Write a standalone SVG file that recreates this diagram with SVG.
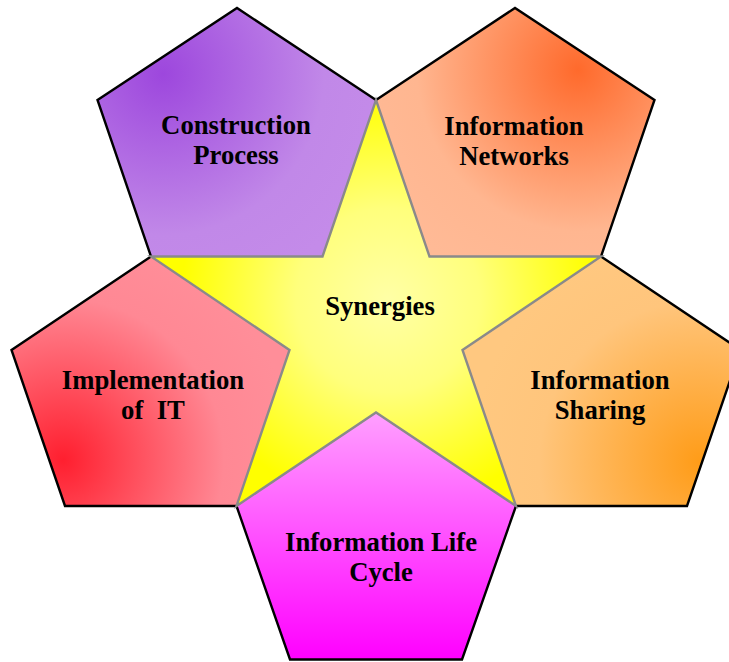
<svg xmlns="http://www.w3.org/2000/svg" width="729" height="662" viewBox="0 0 729 662">
  <defs>
    <radialGradient id="gPurple" gradientUnits="userSpaceOnUse" cx="163" cy="74" r="230">
      <stop offset="0" stop-color="#9d47dd"/>
      <stop offset="0.7" stop-color="#c188e8"/>
      <stop offset="1" stop-color="#c48be9"/>
    </radialGradient>
    <radialGradient id="gCoral" gradientUnits="userSpaceOnUse" cx="578" cy="70" r="230">
      <stop offset="0" stop-color="#ff6a2c"/>
      <stop offset="0.7" stop-color="#ffb690"/>
      <stop offset="1" stop-color="#ffba96"/>
    </radialGradient>
    <radialGradient id="gRed" gradientUnits="userSpaceOnUse" cx="63" cy="460" r="230">
      <stop offset="0" stop-color="#ff1f2f"/>
      <stop offset="0.7" stop-color="#ff8894"/>
      <stop offset="1" stop-color="#ff8e99"/>
    </radialGradient>
    <radialGradient id="gOrange" gradientUnits="userSpaceOnUse" cx="700" cy="462" r="230">
      <stop offset="0" stop-color="#ff9c18"/>
      <stop offset="0.7" stop-color="#ffc57c"/>
      <stop offset="1" stop-color="#ffc880"/>
    </radialGradient>
    <linearGradient id="gMagenta" gradientUnits="userSpaceOnUse" x1="0" y1="412" x2="0" y2="660">
      <stop offset="0" stop-color="#ffa0ff"/>
      <stop offset="1" stop-color="#ff00ff"/>
    </linearGradient>
    <radialGradient id="gStar" gradientUnits="userSpaceOnUse" cx="388" cy="300" r="230">
      <stop offset="0" stop-color="#ffffa6"/>
      <stop offset="0.4" stop-color="#ffff7c"/>
      <stop offset="0.9" stop-color="#ffff00"/>
    </radialGradient>
  </defs>
  <style>
    .fill { stroke: none; }
    .edge { fill: none; stroke: #000; stroke-width: 2.4; stroke-linejoin: miter; }
    .star { stroke: #8a8a8a; stroke-width: 2.4; stroke-linejoin: miter; }
    .label { font-family: "Liberation Serif", "Times New Roman", serif; font-weight: bold; font-size: 26.7px; fill: #000; text-anchor: middle; }
  </style>

  <!-- Construction Process (upper left) -->
  <g id="construction">
    <polygon class="fill" fill="url(#gPurple)" points="237,8 376,100 322.5,256.5 151,256.5 97.5,100"/>
    <polyline class="edge" points="151,256.5 97.5,100 237,8 376,100"/>
    <text class="label" x="236" y="134">Construction</text>
    <text class="label" x="236" y="164">Process</text>
  </g>

  <!-- Information Networks (upper right) -->
  <g id="networks">
    <polygon class="fill" fill="url(#gCoral)" points="515,8 654.5,100 601,256.5 429.5,256.5 376,100"/>
    <polyline class="edge" points="376,100 515,8 654.5,100 601,256.5"/>
    <text class="label" x="514" y="135">Information</text>
    <text class="label" x="514" y="165">Networks</text>
  </g>

  <!-- Implementation of IT (left) -->
  <g id="implementation">
    <polygon class="fill" fill="url(#gRed)" points="151,256.5 289.5,350 236.5,506 65,506 11.5,350"/>
    <polyline class="edge" points="236.5,506 65,506 11.5,350 151,256.5"/>
    <text class="label" x="153" y="388.5">Implementation</text>
    <text class="label" x="153" y="419" xml:space="preserve">of  IT</text>
  </g>

  <!-- Information Sharing (right) -->
  <g id="sharing">
    <polygon class="fill" fill="url(#gOrange)" points="601,256.5 740.5,350 687,506 516,506 462.5,350"/>
    <polyline class="edge" points="601,256.5 740.5,350 687,506 516,506"/>
    <text class="label" x="600" y="388.5">Information</text>
    <text class="label" x="600" y="418.5">Sharing</text>
  </g>

  <!-- Information Life Cycle (bottom) -->
  <g id="lifecycle">
    <polygon class="fill" fill="url(#gMagenta)" points="376,412.5 516,506 462,659.5 290,659.5 236.5,506"/>
    <polyline class="edge" points="516,506 462,659.5 290,659.5 236.5,506"/>
    <text class="label" x="381" y="551">Information Life</text>
    <text class="label" x="381" y="581">Cycle</text>
  </g>

  <!-- Synergies (central star) -->
  <g id="synergies">
    <polygon class="star" fill="url(#gStar)" points="376,100 429.5,256.5 601,256.5 462.5,350 516,506 376,412.5 236.5,506 289.5,350 151,256.5 322.5,256.5"/>
    <text class="label" x="380" y="315">Synergies</text>
  </g>
</svg>
